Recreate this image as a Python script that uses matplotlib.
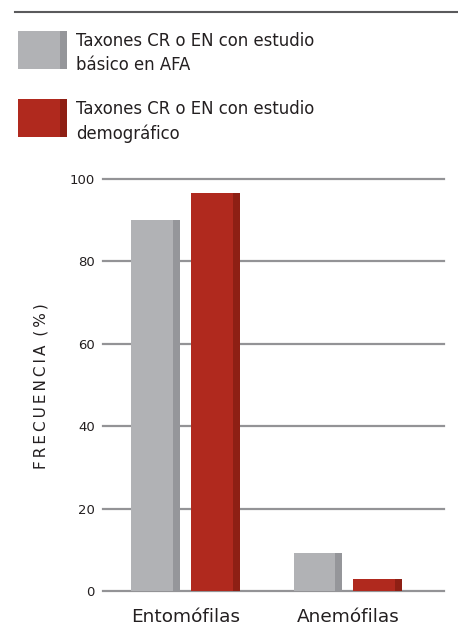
"""
Frecuencia de taxones CR o EN segun tipo de polinizacion.
Saves the figure to out.png.
"""

import matplotlib.pyplot as plt
import numpy as np
from matplotlib.lines import Line2D
from matplotlib.patches import Rectangle


categories = ["Entomófilas", "Anemófilas"]
basico_afa = [90.0, 9.2]
demografico = [96.6, 3.0]
series_labels = [
    "Taxones CR o EN con estudio\nbásico en AFA",
    "Taxones CR o EN con estudio\ndemográfico",
]
y_ticks = [0, 20, 40, 60, 80, 100]
y_label = "FRECUENCIA (%)"

W, H = 458, 642
GRAY, GRAY_DARK = "#b1b2b5", "#95969a"
RED, RED_DARK = "#b0291e", "#8e1f14"
GRID = "#939396"

plt.rcParams["font.family"] = ["DejaVu Sans"]


def fx(px):
    return px / W


def fy(py):
    return 1 - py / H


def main() -> None:
    fig = plt.figure(figsize=(W / 100, H / 100), dpi=100)

    # top rule
    fig.add_artist(Line2D([fx(15), 1.0], [fy(12), fy(12)], color="#5a5a5c", lw=1.5))

    # legend, drawn by hand (boxes with darker right edge)
    for i, (label, c, cd) in enumerate(zip(series_labels, [GRAY, RED], [GRAY_DARK, RED_DARK])):
        top = 31 + i * 68
        fig.add_artist(Rectangle((fx(18), fy(top + 38)), fx(42), 38 / H, color=c, lw=0))
        fig.add_artist(Rectangle((fx(60), fy(top + 38)), fx(7), 38 / H, color=cd, lw=0))
        fig.text(fx(76), fy(top + 1), label, ha="left", va="top", fontsize=11.9,
                 color="#231f20", linespacing=1.42)

    # plot area
    ax = fig.add_axes([fx(103), fy(591), fx(444 - 103), (591 - 179) / H])
    x = np.arange(len(categories))
    width = 0.3015
    offset = 0.1846
    strip = 0.0431

    for vals, sign, c, cd in [(basico_afa, -1, GRAY, GRAY_DARK), (demografico, 1, RED, RED_DARK)]:
        pos = x + sign * offset
        ax.bar(pos, vals, width=width, color=c, zorder=3)
        ax.bar(pos + width / 2 - strip / 2, vals, width=strip, color=cd, zorder=4)

    for t in y_ticks:
        ax.axhline(t, color=GRID, lw=1.6, zorder=1, clip_on=False)

    ax.set_xlim(-0.508, 1.591)
    ax.set_ylim(0, 100)
    ax.set_yticks(y_ticks)
    ax.set_yticklabels([str(t) for t in y_ticks], fontsize=9.5, color="#231f20")
    ax.set_xticks(x)
    ax.set_xticklabels(categories, fontsize=13.3, color="#231f20")
    ax.tick_params(axis="y", length=0, pad=6)
    ax.tick_params(axis="x", length=0, pad=12)
    for s in ax.spines.values():
        s.set_visible(False)

    spaced = "\u2009".join(y_label.replace(" ", "\u2009"))
    fig.text(fx(41), fy(386), spaced, rotation=90, ha="center", va="center",
             fontsize=11, color="#231f20")

    fig.savefig("out.png", dpi=100)
    plt.close(fig)


if __name__ == "__main__":
    main()
